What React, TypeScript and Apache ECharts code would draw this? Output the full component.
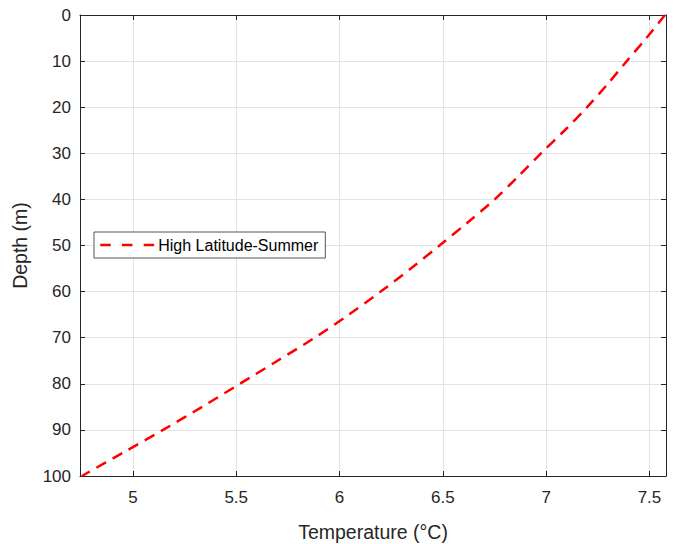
import React, { useEffect, useRef } from "react";
import * as echarts from "echarts";

const depths = [0, 5, 10, 15, 20, 25, 30, 35, 40, 45, 50, 55, 60, 65, 70, 75, 80, 85, 90, 95, 100];
const temps = [7.575, 7.485, 7.39, 7.297, 7.198, 7.09, 6.975, 6.865, 6.751, 6.62, 6.484, 6.345, 6.199, 6.045, 5.88, 5.70, 5.518, 5.335, 5.146, 4.95, 4.753];
const xTicks = [5, 5.5, 6, 6.5, 7, 7.5];
const seriesName = "High Latitude-Summer";

const FONT = "'Liberation Sans', Arial, Helvetica, sans-serif";
const AX = "#262626";
const GRID = "#e3e3e3";

export default function App() {
  const ref = useRef<HTMLDivElement>(null);
  useEffect(() => {
    document.body.style.margin = "0";
    if (!ref.current) return;
    const chart = echarts.init(ref.current, null, { renderer: "svg" });
    const xMin = 4.744;
    const xMax = 7.58;
    const tickCommon = { show: true, inside: true, length: 5, lineStyle: { color: AX, width: 1 } };
    chart.setOption({
      animation: false,
      backgroundColor: "#fff",
      textStyle: { fontFamily: FONT },
      grid: { left: 80, top: 15, right: 18, bottom: 68, containLabel: false, outerBoundsMode: "none" },
      legend: {
        show: true,
        data: [seriesName],
        left: 94,
        top: 232,
        orient: "vertical",
        backgroundColor: "#fff",
        borderColor: "#555",
        borderWidth: 1,
        borderRadius: 0,
        padding: [5, 7, 5, 5],
        itemWidth: 55,
        itemHeight: 16,
        itemGap: 0,
        itemStyle: { color: "rgba(0,0,0,0)", borderColor: "rgba(0,0,0,0)", borderWidth: 0 },
        lineStyle: { color: "#ff0000", width: 2.5, type: [10.5, 11.2] },
        textStyle: { fontFamily: FONT, fontSize: 16, color: "#000", padding: [0, 0, 0, -2] },
      },
      xAxis: [
        {
          type: "value",
          min: xMin,
          max: xMax,
          position: "bottom",
          name: "Temperature (°C)",
          nameLocation: "middle",
          nameGap: 46,
          nameTextStyle: { fontFamily: FONT, fontSize: 19.5, color: AX },
          axisLine: { show: true, onZero: false, lineStyle: { color: AX, width: 1 } },
          axisTick: { ...tickCommon, customValues: xTicks },
          axisLabel: { customValues: xTicks, fontFamily: FONT, fontSize: 17, color: AX, margin: 13 },
          splitLine: { show: true, lineStyle: { color: GRID, width: 1 } },
        },
        {
          type: "value",
          min: xMin,
          max: xMax,
          position: "top",
          axisLine: { show: true, onZero: false, lineStyle: { color: AX, width: 1 } },
          axisTick: { ...tickCommon, customValues: xTicks },
          axisLabel: { show: false, customValues: xTicks },
          splitLine: { show: false },
        },
      ],
      yAxis: [
        {
          type: "value",
          inverse: true,
          min: 0,
          max: 100,
          interval: 10,
          position: "left",
          name: "Depth (m)",
          nameLocation: "middle",
          nameGap: 50,
          nameRotate: 90,
          nameTextStyle: { fontFamily: FONT, fontSize: 19.5, color: AX },
          axisLine: { show: true, onZero: false, lineStyle: { color: AX, width: 1 } },
          axisTick: tickCommon,
          axisLabel: { fontFamily: FONT, fontSize: 17, color: AX, margin: 9 },
          splitLine: { show: true, lineStyle: { color: GRID, width: 1 } },
        },
        {
          type: "value",
          inverse: true,
          min: 0,
          max: 100,
          interval: 10,
          position: "right",
          axisLine: { show: true, onZero: false, lineStyle: { color: AX, width: 1 } },
          axisTick: tickCommon,
          axisLabel: { show: false },
          splitLine: { show: false },
        },
      ],
      series: [
        {
          name: seriesName,
          type: "line",
          xAxisIndex: 0,
          yAxisIndex: 0,
          data: depths.map((d, i) => [temps[i], d]),
          smooth: 0.3,
          showSymbol: false,
          symbol: "none",
          lineStyle: { color: "#ff0000", width: 2.5, type: [11, 7.5] },
          itemStyle: { color: "#ff0000" },
        },
      ],
    });
    return () => chart.dispose();
  }, []);
  return <div ref={ref} style={{ width: 684, height: 544 }} />;
}
